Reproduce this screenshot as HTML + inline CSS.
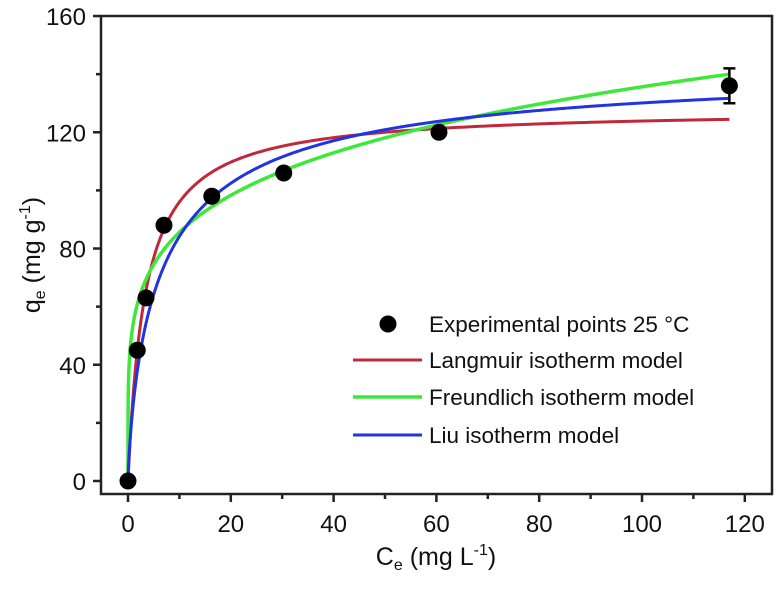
<!DOCTYPE html>
<html><head><meta charset="utf-8"><style>
body{margin:0;background:#fff}
svg text{font-family:"Liberation Sans",sans-serif;fill:#111}
</style></head><body>
<svg id="chart" width="779" height="590" xmlns="http://www.w3.org/2000/svg">
<rect x="101" y="16" width="671" height="478" fill="none" stroke="#222" stroke-width="2.5"/>
<g id="xticks"></g>
<g id="yticks"></g>
<g id="curves"></g>
<g id="points"></g>
<text x="436" y="565" font-size="25" text-anchor="middle">C<tspan font-size="16" dy="5">e</tspan><tspan dy="-5"> (mg L</tspan><tspan font-size="16" dy="-10">-1</tspan><tspan dy="10">)</tspan></text>
<text transform="translate(40,255) rotate(-90)" font-size="25" text-anchor="middle">q<tspan font-size="16" dy="5">e</tspan><tspan dy="-5"> (mg g</tspan><tspan font-size="16" dy="-10">-1</tspan><tspan dy="10">)</tspan></text>
<g font-size="22.5">
<circle cx="388" cy="324" r="8.5" fill="#000"/>
<text x="429" y="332">Experimental points 25 °C</text>
<line x1="353" y1="360" x2="422" y2="360" stroke="#c0283c" stroke-width="3"/>
<text x="429" y="368">Langmuir isotherm model</text>
<line x1="353" y1="397" x2="422" y2="397" stroke="#3ee83a" stroke-width="3.5"/>
<text x="429" y="405">Freundlich isotherm model</text>
<line x1="353" y1="435" x2="422" y2="435" stroke="#2233e0" stroke-width="3"/>
<text x="429" y="443">Liu isotherm model</text>
</g>
</svg>
<script>
const xTicks=[0,20,40,60,80,100,120];
const yTicks=[0,40,80,120,160];
const ceValues=[0,1.8,3.5,7,16.3,30.3,60.5,117];
const qeValues=[0,45,63,88,98,106,120,136];
const qeErrors=[0,0,0,0,0,0,0,6];
const langmuirParams=[128,0.3];      // qm, K
const freundlichParams=[54,0.2];     // Kf, 1/n
const liuParams=[145,0.15,0.8];      // qm, K, n
const xs=v=>128+v*5.14;
const ys=v=>481-v*2.906;
const NS="http://www.w3.org/2000/svg";
function mk(t,a,p){const e=document.createElementNS(NS,t);for(const k in a)e.setAttribute(k,a[k]);p.appendChild(e);return e;}
const gx=document.getElementById('xticks');
xTicks.forEach((t,i)=>{
 const l=mk('line',{x1:xs(t),x2:xs(t),y1:494,y2:502,stroke:'#222','stroke-width':2.5},gx);
 
 
 if(i<xTicks.length-1){const m=mk('line',{x1:xs(t+10),x2:xs(t+10),y1:494,y2:499,stroke:'#222','stroke-width':2.5},gx);
 
 }
 const tx=mk('text',{x:xs(t),y:532,'font-size':24,'text-anchor':'middle'},gx);tx.textContent=t;
 
 
});
const gy=document.getElementById('yticks');
yTicks.forEach((t,i)=>{
 const l=mk('line',{x1:93,x2:101,y1:ys(t),y2:ys(t),stroke:'#222','stroke-width':2.5},gy);
 
 
 if(i<yTicks.length-1){const m=mk('line',{x1:96,x2:101,y1:ys(t+20),y2:ys(t+20),stroke:'#222','stroke-width':2.5},gy);
 
 }
 const tx=mk('text',{x:86,y:ys(t)+9,'font-size':24,'text-anchor':'end'},gy);tx.textContent=t;
 
 
});
const models=[
 ['langmuir-curve','#c0283c',3,c=>langmuirParams[0]*langmuirParams[1]*c/(1+langmuirParams[1]*c)],
 ['freundlich-curve','#3ee83a',3.5,c=>freundlichParams[0]*Math.pow(c,freundlichParams[1])],
 ['liu-curve','#2233e0',3,c=>{const z=Math.pow(liuParams[1]*c,liuParams[2]);return liuParams[0]*z/(1+z);}]
];
const gc=document.getElementById('curves');
const cmax=ceValues[ceValues.length-1];
models.forEach(m=>{
 let d='';
 for(let i=0;i<=400;i++){const c=cmax*Math.pow(i/400,2);d+=(i?'L':'M')+xs(c).toFixed(2)+','+ys(m[3](c)).toFixed(2);}
 const p=mk('path',{d:d,fill:'none',stroke:m[1],'stroke-width':m[2]},gc);
 
 
});
const gp=document.getElementById('points');
ceValues.forEach((c,i)=>{
 if(qeErrors[i]>0){
  const x=xs(c),y1=ys(qeValues[i]-qeErrors[i]),y2=ys(qeValues[i]+qeErrors[i]);
  const e=mk('path',{d:`M${x},${y1}V${y2}M${x-6},${y1}H${x+6}M${x-6},${y2}H${x+6}`,stroke:'#000','stroke-width':2.5,fill:'none'},gp);
  
  
 }
 const p=mk('circle',{cx:xs(c),cy:ys(qeValues[i]),r:8.5,fill:'#000'},gp);
 
 
});
</script>
</body></html>
